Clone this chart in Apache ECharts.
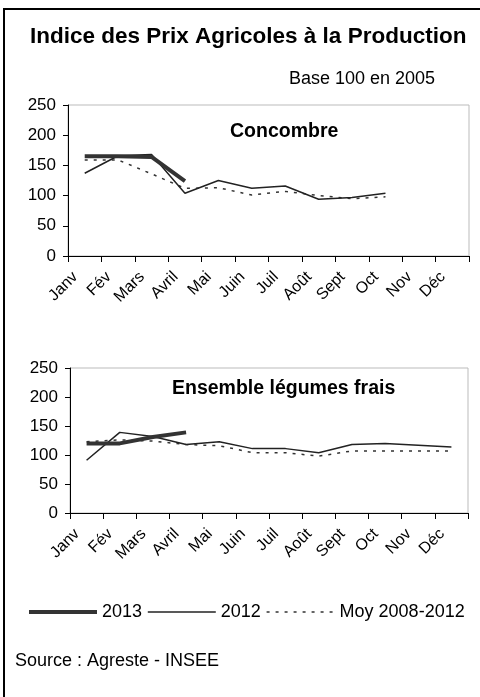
<!DOCTYPE html>
<html>
<head>
<meta charset="utf-8">
<script src="https://cdn.jsdelivr.net/npm/echarts@6/dist/echarts.min.js"></script>
<style>
html,body{margin:0;padding:0;background:#fff;}
#chart{width:480px;height:697px;}
</style>
</head>
<body>
<div id="chart"></div>
<script>
const months = ['Janv','Fév','Mars','Avril','Mai','Juin','Juil','Août','Sept','Oct','Nov','Déc'];
const yTicks = {min: 0, max: 250, interval: 50};

const concombre2013 = [165, 165, 164, 124, null, null, null, null, null, null, null, null];
const concombre2012 = [137, 166, 168, 104, 125, 112, 116, 94, 97, 104, null, null];
const concombreMoy  = [159, 159, 136, 112, 113, 101, 107, 100, 95, 98, null, null];

const legumes2013 = [120, 120, 131, 139, null, null, null, null, null, null, null, null];
const legumes2012 = [91, 139, 132, 118, 123, 111, 111, 104, 118, 120, 117, 114];
const legumesMoy  = [123, 126, 124, 118, 116, 104, 104, 98, 107, 107, 107, 107];

const seriesNames = ['2013', '2012', 'Moy 2008-2012'];

const FONT = 'Liberation Sans, Arial, sans-serif';
const chart = echarts.init(document.getElementById('chart'), null, {renderer: 'canvas'});

const styles = [
  {width: 4, color: '#333', type: 'solid'},
  {width: 1.5, color: '#222', type: 'solid'},
  {width: 1.5, color: '#333', type: [3, 6]}
];

function xAxis(gridIndex) {
  return {
    type: 'category', gridIndex, data: months, boundaryGap: true,
    axisLine: {lineStyle: {color: '#000', width: 1}},
    axisTick: {show: true, length: 6, inside: false, interval: 0, lineStyle: {color: '#000'}},
    axisLabel: {rotate: 45, interval: 0, fontFamily: FONT, fontSize: 16, color: '#000', margin: 9,
                formatter: v => v + '   '},
    splitLine: {show: false}
  };
}
function yAxis(gridIndex) {
  return {
    type: 'value', gridIndex, min: yTicks.min, max: yTicks.max, interval: yTicks.interval,
    axisLine: {show: true, lineStyle: {color: '#000', width: 1}},
    axisTick: {show: true, length: 5, lineStyle: {color: '#000'}},
    axisLabel: {fontFamily: FONT, fontSize: 17, color: '#000', margin: 12},
    splitLine: {show: false}
  };
}
function mk(name, data, idx, styleIdx) {
  return {
    name, type: 'line', data, xAxisIndex: idx, yAxisIndex: idx,
    symbol: 'none', showSymbol: false, connectNulls: false, animation: false,
    lineStyle: styles[styleIdx], itemStyle: {color: styles[styleIdx].color},
    z: 10 - styleIdx
  };
}

chart.setOption({
  animation: false,
  backgroundColor: '#fff',
  graphic: [{
    type: 'rect', shape: {x: 4, y: 9, width: 600, height: 800},
    style: {fill: 'none', stroke: '#000', lineWidth: 2}, silent: true
  }],
  title: [
    {text: 'Indice des Prix Agricoles à la Production', left: 30, top: 25, padding: 0,
     textStyle: {fontFamily: FONT, fontSize: 22.5, fontWeight: 'bold', color: '#000'}},
    {text: 'Base 100 en 2005', left: 289, top: 70, padding: 0,
     textStyle: {fontFamily: FONT, fontSize: 18, fontWeight: 'normal', color: '#000'}},
    {text: 'Concombre', left: 230, top: 122, padding: 0,
     textStyle: {fontFamily: FONT, fontSize: 19.5, fontWeight: 'bold', color: '#000'}},
    {text: 'Ensemble légumes frais', left: 172, top: 379, padding: 0,
     textStyle: {fontFamily: FONT, fontSize: 19.5, fontWeight: 'bold', color: '#000'}},
    {text: 'Source : Agreste - INSEE', left: 15, top: 652, padding: 0,
     textStyle: {fontFamily: FONT, fontSize: 18, fontWeight: 'normal', color: '#000'}}
  ],
  legend: {
    data: seriesNames.map((n, i) => ({
      name: n,
      lineStyle: {width: styles[i].width, color: styles[i].color, type: styles[i].type},
      itemStyle: {color: 'rgba(0,0,0,0)', borderColor: 'rgba(0,0,0,0)', borderWidth: 0}
    })),
    left: 27, top: 603, width: 470, padding: 0, itemGap: 5,
    itemWidth: 68, itemHeight: 14,
    textStyle: {fontFamily: FONT, fontSize: 18, color: '#000'},
    selectedMode: false
  },
  grid: [
    {left: 68, top: 105, width: 401, height: 151, show: true, borderColor: '#bbb', borderWidth: 1, backgroundColor: 'transparent'},
    {left: 70, top: 368, width: 398, height: 145, show: true, borderColor: '#bbb', borderWidth: 1, backgroundColor: 'transparent'}
  ],
  xAxis: [xAxis(0), xAxis(1)],
  yAxis: [yAxis(0), yAxis(1)],
  series: [
    mk(seriesNames[2], concombreMoy, 0, 2),
    mk(seriesNames[1], concombre2012, 0, 1),
    mk(seriesNames[0], concombre2013, 0, 0),
    mk(seriesNames[2], legumesMoy, 1, 2),
    mk(seriesNames[1], legumes2012, 1, 1),
    mk(seriesNames[0], legumes2013, 1, 0)
  ]
});
</script>
</body>
</html>
